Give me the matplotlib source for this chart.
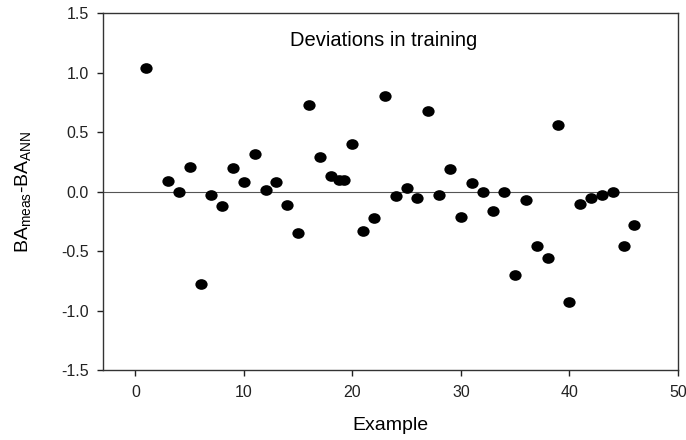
import matplotlib
matplotlib.use("Agg")
import matplotlib.pyplot as plt
from matplotlib.path import Path

plt.rcParams["font.family"] = ["Liberation Sans", "DejaVu Sans"]

example = [1, 3, 4, 5, 6, 7, 8, 9, 10, 11, 12, 13, 14, 15, 16, 17, 18,
           18.8, 19.2, 20, 21, 22, 23, 24, 25, 26, 27, 28, 29, 30, 31, 32,
           33, 34, 35, 36, 37, 38, 39, 40, 41, 42, 43, 44, 45, 46]
deviation = [1.04, 0.09, 0.00, 0.21, -0.78, -0.03, -0.12, 0.20, 0.08, 0.32,
             0.01, 0.08, -0.11, -0.35, 0.73, 0.29, 0.13, 0.10, 0.10, 0.40,
             -0.33, -0.22, 0.80, -0.04, 0.03, -0.05, 0.68, -0.03, 0.19,
             -0.21, 0.07, 0.00, -0.16, 0.00, -0.70, -0.07, -0.46, -0.56,
             0.56, -0.93, -0.10, -0.05, -0.03, 0.00, -0.46, -0.28]

xticks = [0, 10, 20, 30, 40, 50]
yticks = [-1.5, -1.0, -0.5, 0.0, 0.5, 1.0, 1.5]

# the original image is a bit stretched sideways, so the dots are slightly oval
circle = Path.unit_circle()
oval = Path(circle.vertices * [1.15, 1.0], circle.codes)

# ------------------------------------------------------------------ figure
fig = plt.figure(figsize=(6.86, 4.40), dpi=100)
ax = fig.add_axes([0.150, 0.159, 0.838, 0.811])

ax.axhline(0, color="#555555", linewidth=0.8, zorder=1)
ax.scatter(example, deviation, s=78, marker=oval, color="black",
           linewidths=0, zorder=3)

ax.set_xlim(-3, 50)
ax.set_ylim(-1.5, 1.5)
ax.set_xticks(xticks)
ax.set_yticks(yticks)
ax.set_yticklabels([f"{v:.1f}" for v in yticks])
ax.tick_params(direction="out", length=4, width=1, labelsize=11.5,
               top=False, right=False, colors="#222222")
ax.tick_params(axis="y", pad=6)
ax.tick_params(axis="x", pad=7)
for sp in ax.spines.values():
    sp.set_linewidth(1.0)
    sp.set_color("#333333")

ax.set_xlabel("Example", fontsize=14, labelpad=12)
ax.set_ylabel(r"BA$_{\mathregular{meas}}$-BA$_{\mathregular{ANN}}$",
              fontsize=14, labelpad=20)
ax.text(0.489, 0.924, "Deviations in training", transform=ax.transAxes,
        ha="center", va="center", fontsize=14.5)

fig.savefig("out.png", dpi=100)
